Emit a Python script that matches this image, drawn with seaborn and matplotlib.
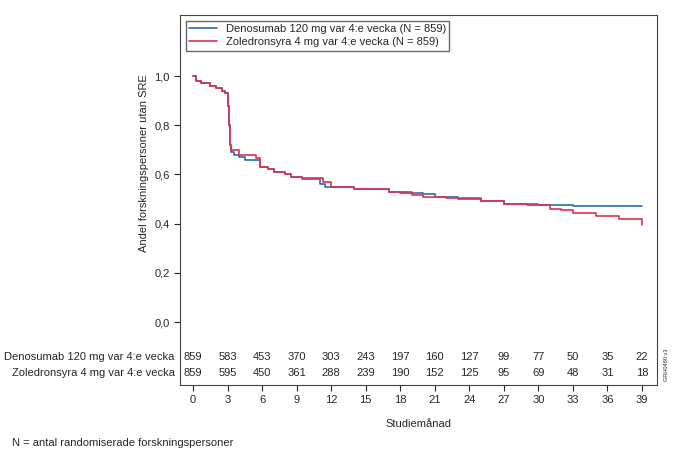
import matplotlib
matplotlib.use("Agg")
import matplotlib.pyplot as plt
import seaborn as sns
import pandas as pd

sns.set_style("white")
plt.rcParams['font.family'] = ['Liberation Sans', 'DejaVu Sans']

deno_t = [0,0.3,0.7,1.5,2.0,2.5,2.8,3.0,3.1,3.2,3.3,3.6,4.0,4.5,5.8,6.5,7,8,8.5,9.5,11,11.5,13,14,16,17,18,20,21,23,25,27,29,33,39]
deno_s = [1.0,0.98,0.97,0.96,0.95,0.94,0.93,0.88,0.80,0.72,0.69,0.68,0.67,0.66,0.63,0.62,0.61,0.60,0.59,0.58,0.56,0.55,0.55,0.54,0.54,0.53,0.525,0.52,0.51,0.50,0.49,0.48,0.475,0.47,0.47]
zol_t = [0,0.3,0.7,1.5,2.0,2.5,2.8,3.0,3.1,3.2,3.3,4.0,5.5,5.8,6.5,7,8,8.5,9.5,11.3,12,14,16,17,19,20,22,25,27,30,31,32,33,35,37,38.9,39]
zol_s = [1.0,0.98,0.97,0.96,0.95,0.94,0.93,0.88,0.80,0.72,0.70,0.68,0.665,0.63,0.62,0.61,0.60,0.59,0.585,0.57,0.55,0.54,0.54,0.53,0.515,0.51,0.505,0.49,0.48,0.475,0.46,0.455,0.445,0.43,0.42,0.42,0.395]

risk_months = [0,3,6,9,12,15,18,21,24,27,30,33,36,39]
deno_risk = [859,583,453,370,303,243,197,160,127,99,77,50,35,22]
zol_risk = [859,595,450,361,288,239,190,152,125,95,69,48,31,18]
deno_label = "Denosumab 120 mg var 4:e vecka (N = 859)"
zol_label = "Zoledronsyra 4 mg var 4:e vecka (N = 859)"
deno_row = "Denosumab 120 mg var 4:e vecka"
zol_row = "Zoledronsyra 4 mg var 4:e vecka"

fig = plt.figure(figsize=(6.8, 4.61), dpi=100)
ax = fig.add_axes([180/680, 1-385/461, 477/680, 370/461])

df = pd.concat([
    pd.DataFrame({"t": deno_t, "s": deno_s, "g": deno_label}),
    pd.DataFrame({"t": zol_t, "s": zol_s, "g": zol_label}),
])
sns.lineplot(data=df, x="t", y="s", hue="g", palette=["#2a6db0", "#e0304f"],
             drawstyle="steps-post", linewidth=1.2, ax=ax, estimator=None, sort=False)

ax.set_xlim(-1.13, 40.3)
ax.set_ylim(-0.256, 1.248)
ax.set_yticks([0, 0.2, 0.4, 0.6, 0.8, 1.0])
ax.set_yticklabels(["0,0", "0,2", "0,4", "0,6", "0,8", "1,0"], fontsize=8)
ax.set_xticks(risk_months)
ax.set_xticklabels([str(m) for m in risk_months], fontsize=8)
ax.tick_params(axis='both', length=4, direction='out', width=0.8, left=True, bottom=True)
ax.set_xlabel("Studiemånad", fontsize=8, labelpad=10)
ax.set_ylabel("Andel forskningspersoner utan SRE", fontsize=8, y=0.6)
for sp in ax.spines.values():
    sp.set_color("#444444"); sp.set_linewidth(0.8)

for m, d, z in zip(risk_months, deno_risk, zol_risk):
    ax.text(m, -0.142, str(d), ha="center", va="center", fontsize=8)
    ax.text(m, -0.207, str(z), ha="center", va="center", fontsize=8)
ax.text(-1.6, -0.142, deno_row, ha="right", va="center", fontsize=8, clip_on=False)
ax.text(-1.6, -0.207, zol_row, ha="right", va="center", fontsize=8, clip_on=False)

leg = ax.legend(loc="upper left", bbox_to_anchor=(0.0, 1.0), fontsize=8, frameon=True,
                fancybox=False, edgecolor="#444444", handlelength=2.5, borderpad=0.3, labelspacing=0.3)
leg.set_title(None)
fig.text(667/680, 1-365/461, "GRH0480 v3", rotation=90, fontsize=4, ha="center", va="center")
fig.text(12/680, 1-443/461, "N = antal randomiserade forskningspersoner", fontsize=8, va="center")
fig.savefig("out.png", dpi=100)
